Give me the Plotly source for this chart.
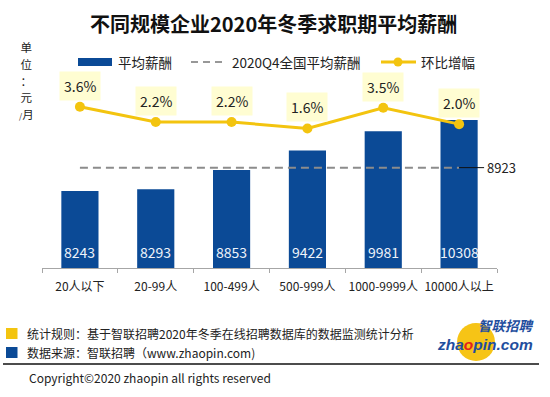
import plotly.graph_objects as go

categories = ["20人以下", "20-99人", "100-499人", "500-999人", "1000-9999人", "10000人以上"]
avg_salary = [8243, 8293, 8853, 9422, 9981, 10308]
growth_pct = [3.6, 2.2, 2.2, 1.6, 3.5, 2.0]
national_avg = 8923

title_text = "不同规模企业2020年冬季求职期平均薪酬"
legend_names = ["平均薪酬", "2020Q4全国平均薪酬", "环比增幅"]
unit_lines = ["单", "位", "：", "元", "<span style='font-size:8px'>/</span>月"]
note_rule = "统计规则：基于智联招聘2020年冬季在线招聘数据库的数据监测统计分析"
note_source = "数据来源：智联招聘（www.zhaopin.com)"
copyright_text = "Copyright©2020 zhaopin all rights reserved"

BLUE = "#0B4A96"
GOLD = "#F3C40F"
GRAY = "#8C8C8C"
FONT = "Noto Sans CJK SC"

W, H = 550, 397
L, R, T, B = 42, 53, 62, 129
PW, PH = W - L - R, H - T - B


def px(x):
    return (x - L) / PW


def py(y):
    return (H - B - y) / PH


def paper_text(x, y, text, size, color="#222222", xanchor="left", family=FONT, angle=0):
    return dict(x=px(x), y=py(y), xref="paper", yref="paper", xanchor=xanchor, yanchor="middle",
                text=text, showarrow=False, textangle=angle,
                font=dict(family=family, size=size, color=color))


fig = go.Figure()
fig.add_trace(go.Bar(x=categories, y=avg_salary, marker_color=BLUE, width=0.49,
                     name=legend_names[0], showlegend=False, hoverinfo="skip"))
fig.add_trace(go.Scatter(x=[categories[0], categories[-1]], y=[national_avg, national_avg],
                         mode="lines", line=dict(color=GRAY, width=2, dash="8px,5px"),
                         name=legend_names[1], showlegend=False, hoverinfo="skip"))
fig.add_trace(go.Scatter(x=categories, y=growth_pct, yaxis="y2", mode="lines+markers",
                         line=dict(color=GOLD, width=3), marker=dict(size=10, color=GOLD),
                         name=legend_names[2], showlegend=False, hoverinfo="skip"))

ann = []
shapes = []
# bar value labels
for c, v in zip(categories, avg_salary):
    ann.append(dict(x=c, y=6000, xref="x", yref="y", yshift=16, xanchor="center", yanchor="middle",
                    text=str(v), showarrow=False,
                    font=dict(family=FONT, size=14, color="#EEF3FA")))
# growth labels
for c, g in zip(categories, growth_pct):
    ann.append(dict(x=c, y=g, xref="x", yref="y2", yshift=21, xanchor="center", yanchor="middle",
                    text=f"{g:.1f}%", showarrow=False, bgcolor="#FFFDD2", borderpad=4,
                    font=dict(family=FONT, size=14, color="#222222")))
# national average label
ann.append(dict(x=categories[-1], y=national_avg, xref="x", yref="y", text=str(national_avg),
                showarrow=True, arrowhead=0, arrowwidth=1, arrowcolor="#111111", ax=42, ay=0,
                borderpad=2, font=dict(family=FONT, size=13, color="#222222")))

# title
ann.append(paper_text(273, 23, f"<b>{title_text}</b>", 20, "#111111", xanchor="center"))

# unit label (vertical, one text block)
unit_text = "<br>".join(f"<span style='font-size:11.5px'>{s}</span>" for s in unit_lines)
ann.append(paper_text(26, 80, unit_text, 12.9, xanchor="center"))

# legend
shapes.append(dict(type="rect", xref="paper", yref="paper", x0=px(78), x1=px(112), y0=py(58), y1=py(66),
                   fillcolor=BLUE, line=dict(width=0)))
ann.append(paper_text(116, 62, legend_names[0], 13.5))
shapes.append(dict(type="line", xref="paper", yref="paper", x0=px(191), x1=px(226), y0=py(62), y1=py(62),
                   line=dict(color="#777777", width=1.5, dash="7px,5px")))
ann.append(paper_text(230, 62, legend_names[1], 13.5))
shapes.append(dict(type="line", xref="paper", yref="paper", x0=px(381), x1=px(416), y0=py(62), y1=py(62),
                   line=dict(color=GOLD, width=3)))
shapes.append(dict(type="circle", xref="paper", yref="paper", x0=px(393.5), x1=px(402.5), y0=py(57.5),
                   y1=py(66.5), fillcolor=GOLD, line=dict(width=0)))
ann.append(paper_text(419, 62, legend_names[2], 13.5))

# footer
shapes.append(dict(type="rect", xref="paper", yref="paper", x0=px(6), x1=px(17.5), y0=py(339), y1=py(328),
                   fillcolor=GOLD, line=dict(width=0)))
shapes.append(dict(type="rect", xref="paper", yref="paper", x0=px(6), x1=px(17.5), y0=py(358), y1=py(347),
                   fillcolor=BLUE, line=dict(width=0)))
ann.append(paper_text(25, 333, note_rule, 12))
ann.append(paper_text(25, 352, note_source, 12))
shapes.append(dict(type="line", xref="paper", yref="paper", x0=px(3), x1=px(539), y0=py(364), y1=py(364),
                   line=dict(color="#111111", width=1.5)))
ann.append(paper_text(27, 377, copyright_text, 12))

# logo
shapes.append(dict(type="circle", xref="paper", yref="paper", x0=px(457), x1=px(495), y0=py(361), y1=py(323),
                   fillcolor="#F6C416", line=dict(width=0)))
ann.append(paper_text(507, 325, "<b><i>智联招聘</i></b>", 13.5, "#1F4E9E", xanchor="center"))
ann.append(paper_text(485, 344, "<b><i>zha<span style='color:#E3221B'>o</span>pin.com</i></b>", 15.5,
                      "#1F4E9E", xanchor="center", family="Liberation Sans"))

fig.update_layout(
    template="none",
    width=W, height=H,
    margin=dict(l=L, r=R, t=T, b=B, pad=0),
    paper_bgcolor="white", plot_bgcolor="white",
    showlegend=False,
    bargap=0.51,
    xaxis=dict(type="category", range=[-0.5, 5.5], showline=True, linecolor="#A6A6A6", linewidth=1,
               ticks="outside", tickson="boundaries", ticklen=4, tickcolor="#A6A6A6", tickangle=0,
               tickfont=dict(family=FONT, size=12, color="#222222"), ticklabelstandoff=8,
               showgrid=False, zeroline=False, fixedrange=True, automargin=False),
    yaxis=dict(range=[6000, 12000], visible=False, showgrid=False, zeroline=False, fixedrange=True),
    yaxis2=dict(range=[-11.2, 7.7], overlaying="y", side="right", visible=False, showgrid=False,
                zeroline=False, fixedrange=True),
    annotations=ann,
    shapes=shapes,
    font=dict(family=FONT),
)

fig.write_html("out.html", config={"displayModeBar": False},
               post_script="document.body.style.margin='0';")
